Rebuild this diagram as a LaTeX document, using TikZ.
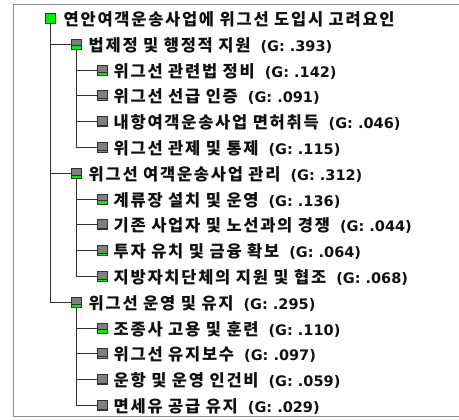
\documentclass[tikz,border=0pt]{standalone}
\usepackage{fontspec}
\newfontfamily\kr{Noto Sans CJK KR}[LetterSpace=10.5]
\newfontfamily\lat{DejaVu Sans}
\definecolor{icongray}{HTML}{7F7F7F}
\definecolor{icondark}{HTML}{303030}
\definecolor{gbar}{HTML}{00F000}
\definecolor{framegray}{HTML}{8C8C8C}
\definecolor{txt}{HTML}{101010}
\newcommand{\kg}[2]{{\kr\bfseries\fontsize{16.5}{18}\selectfont #1}\hspace{10pt}{\lat\bfseries (G: #2)}}
\begin{document}
\begin{tikzpicture}[x=1pt,y=-1pt,
  icon/.style={draw=icondark, fill=icongray, minimum size=10pt, inner sep=0pt, line width=0.9pt,
    path picture={
      \fill[gbar] (path picture bounding box.south west) rectangle ([yshift=#1]path picture bounding box.east |- path picture bounding box.south);
      \draw[line width=0.7pt, icondark] ([yshift=#1]path picture bounding box.south west) -- ([yshift=#1]path picture bounding box.south east);
    }},
  rooticon/.style={draw=icondark, fill=gbar, minimum size=10pt, inner sep=0pt, line width=0.9pt},
  lbl/.style={anchor=west, inner sep=0pt, text=txt, font=\fontsize{14.5}{17}\selectfont},
  conn/.style={draw=icondark, line width=0.8pt},
  frame/.style={draw=framegray, line width=1.1pt}
]
\useasboundingbox (0,0) rectangle (459,420);
% frame
\draw[frame] (459,4.5) -- (13.5,4.5) -- (13.5,416.5) -- (459,416.5);

% root
\node[rooticon] (r) at (50.5,18.5) {};
\node[lbl] (rt) at (63.5,19.5) {{\kr\bfseries\fontsize{16.5}{18}\selectfont 연안여객운송사업에 위그선 도입시 고려요인}};

% level 1
\node[icon=3.5pt] (a1) at (76.3,44.3) {};
\node[lbl] (a1t) at (88.5,45.3) {\kg{법제정 및 행정적 지원}{.393}};
\node[icon=2.8pt] (a2) at (76.3,173.3) {};
\node[lbl] (a2t) at (88.5,174.3) {\kg{위그선 여객운송사업 관리}{.312}};
\node[icon=2.7pt] (a3) at (76.3,302.3) {};
\node[lbl] (a3t) at (88.5,303.3) {\kg{위그선 운영 및 유지}{.295}};

% leaves group 1
\node[icon=3.2pt] (b1) at (102,70.1) {};
\node[lbl] (b1t) at (113.5,71.1) {\kg{위그선 관련법 정비}{.142}};
\node[icon=2.1pt] (b2) at (102,95.9) {};
\node[lbl] (b2t) at (113.5,96.9) {\kg{위그선 선급 인증}{.091}};
\node[icon=1.1pt] (b3) at (102,121.7) {};
\node[lbl] (b3t) at (113.5,122.7) {\kg{내항여객운송사업 면허취득}{.046}};
\node[icon=2.6pt] (b4) at (102,147.5) {};
\node[lbl] (b4t) at (113.5,148.5) {\kg{위그선 관제 및 통제}{.115}};

% leaves group 2
\node[icon=3.9pt] (c1) at (102,199.1) {};
\node[lbl] (c1t) at (113.5,200.1) {\kg{계류장 설치 및 운영}{.136}};
\node[icon=1.3pt] (c2) at (102,224.9) {};
\node[lbl] (c2t) at (113.5,225.9) {\kg{기존 사업자 및 노선과의 경쟁}{.044}};
\node[icon=1.9pt] (c3) at (102,250.7) {};
\node[lbl] (c3t) at (113.5,251.7) {\kg{투자 유치 및 금융 확보}{.064}};
\node[icon=2.0pt] (c4) at (102,276.5) {};
\node[lbl] (c4t) at (113.5,277.5) {\kg{지방자치단체의 지원 및 협조}{.068}};

% leaves group 3
\node[icon=3.4pt] (d1) at (102,328.1) {};
\node[lbl] (d1t) at (113.5,329.1) {\kg{조종사 고용 및 훈련}{.110}};
\node[icon=3.0pt] (d2) at (102,353.9) {};
\node[lbl] (d2t) at (113.5,354.9) {\kg{위그선 유지보수}{.097}};
\node[icon=1.8pt] (d3) at (102,379.7) {};
\node[lbl] (d3t) at (113.5,380.7) {\kg{운항 및 운영 인건비}{.059}};
\node[icon=0.9pt] (d4) at (102,405.5) {};
\node[lbl] (d4t) at (113.5,406.5) {\kg{면세유 공급 유지}{.029}};

% connectors
\draw[conn] (r.south) |- (a3.west);
\draw[conn] (r.south |- a1.west) -- (a1.west);
\draw[conn] (r.south |- a2.west) -- (a2.west);

\draw[conn] (a1.south) |- (b4.west);
\foreach \n in {b1,b2,b3} \draw[conn] (a1.south |- \n.west) -- (\n.west);
\draw[conn] (a2.south) |- (c4.west);
\foreach \n in {c1,c2,c3} \draw[conn] (a2.south |- \n.west) -- (\n.west);
\draw[conn] (a3.south) |- (d4.west);
\foreach \n in {d1,d2,d3} \draw[conn] (a3.south |- \n.west) -- (\n.west);
\end{tikzpicture}
\end{document}
